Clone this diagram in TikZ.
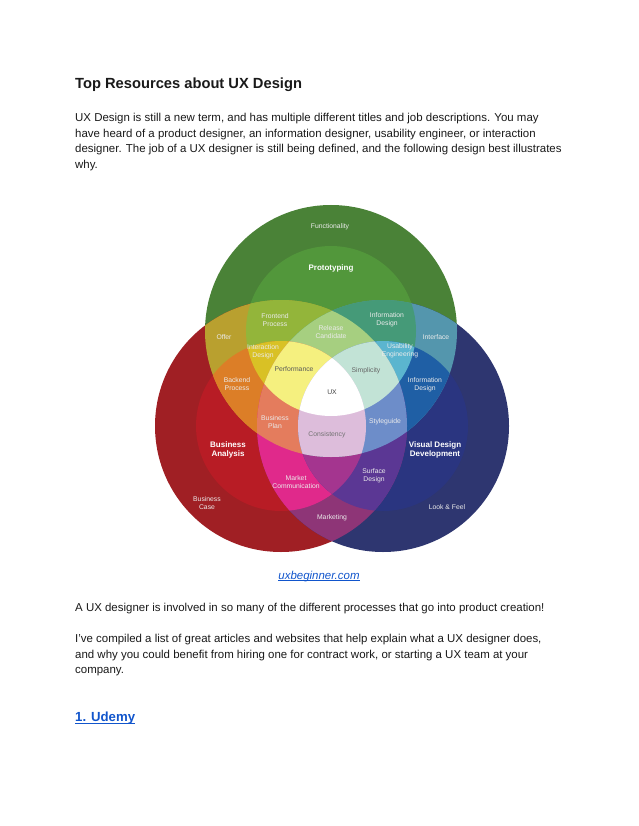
\documentclass[tikz,border=0pt]{standalone}
\usepackage{fontspec}
\setmainfont{Liberation Sans}
\usetikzlibrary{calc}
\definecolor{linkblue}{HTML}{1155CC}
\definecolor{txt}{HTML}{1A1A1A}
\tikzset{
  body/.style={anchor=base west,inner sep=0pt,font=\fontsize{11.46}{13}\selectfont,text=txt},
  dl/.style={align=center,inner sep=0pt,font=\fontsize{6.8}{8.2}\selectfont,text=#1},
  dl/.default=white!92!black,
  dlb/.style={align=center,inner sep=0pt,font=\fontsize{8}{9.6}\bfseries\selectfont,text=white},
}
\def\OG{(331,331) circle[radius=126]}
\def\IG{(331,331) circle[radius=85]}
\def\OR{(281,426) circle[radius=126]}
\def\IR{(281,426) circle[radius=85]}
\def\OB{(383,426) circle[radius=126]}
\def\IB{(383,426) circle[radius=85]}
\newcommand{\rg}[2]{\begin{scope}#1\fill[fill=#2] (0,0) rectangle (638,826);\end{scope}}
\begin{document}
\begin{tikzpicture}[x=1pt,y=-1pt]
\useasboundingbox (0,0) rectangle (638,826);
\fill[white] (0,0) rectangle (638,826);
% single circles
\fill[fill={rgb,255:red,74;green,130;blue,55}] \OG;
\fill[fill={rgb,255:red,160;green,31;blue,36}] \OR;
\fill[fill={rgb,255:red,46;green,54;blue,112}] \OB;
\fill[fill={rgb,255:red,82;green,151;blue,59}] \IG;
\fill[fill={rgb,255:red,184;green,28;blue,37}] \IR;
\fill[fill={rgb,255:red,42;green,53;blue,128}] \IB;
% two-level pairs
\rg{\clip \OG;\clip \OR;}{{rgb,255:red,185;green,160;blue,47}}
\rg{\clip \OG;\clip \OB;}{{rgb,255:red,84;green,150;blue,173}}
\rg{\clip \OR;\clip \OB;}{{rgb,255:red,142;green,53;blue,119}}
\rg{\clip \IG;\clip \OR;}{{rgb,255:red,147;green,181;blue,58}}
\rg{\clip \IG;\clip \OB;}{{rgb,255:red,69;green,154;blue,120}}
\rg{\clip \IR;\clip \OG;}{{rgb,255:red,220;green,126;blue,39}}
\rg{\clip \IR;\clip \OB;}{{rgb,255:red,224;green,41;blue,139}}
\rg{\clip \IB;\clip \OG;}{{rgb,255:red,31;green,95;blue,165}}
\rg{\clip \IB;\clip \OR;}{{rgb,255:red,91;green,55;blue,148}}
\rg{\clip \IG;\clip \IR;}{{rgb,255:red,217;green,193;blue,37}}
\rg{\clip \IG;\clip \IB;}{{rgb,255:red,91;green,181;blue,207}}
\rg{\clip \IR;\clip \IB;}{{rgb,255:red,164;green,53;blue,143}}
% triple overlaps
\rg{\clip \IG;\clip \OR;\clip \OB;}{{rgb,255:red,166;green,207;blue,128}}
\rg{\clip \OG;\clip \IR;\clip \OB;}{{rgb,255:red,228;green,124;blue,93}}
\rg{\clip \OG;\clip \OR;\clip \IB;}{{rgb,255:red,109;green,141;blue,201}}
\rg{\clip \IG;\clip \IR;\clip \OB;}{{rgb,255:red,245;green,240;blue,127}}
\rg{\clip \IG;\clip \OR;\clip \IB;}{{rgb,255:red,194;green,227;blue,214}}
\rg{\clip \OG;\clip \IR;\clip \IB;}{{rgb,255:red,221;green,189;blue,219}}
\rg{\clip \IG;\clip \IR;\clip \IB;}{white}
% diagram labels
\node[dl] (functionality) at (330,227) {Functionality};
\node[dlb] (prototyping) at (331,268) {Prototyping};
\node[dl] (frontend) at (275,320) {Frontend\\Process};
\node[dl] (infotop) at (387,320) {Information\\Design};
\node[dl] (release) at (331,332) {Release\\Candidate};
\node[dl] (offer) at (224,337) {Offer};
\node[dl] (interface) at (436,337) {Interface};
\node[dl] (interaction) at (263,352) {Interaction\\Design};
\node[dl] (usability) at (400,351) {Usability\\Engineering};
\node[dl=black!65] (performance) at (294,369) {Performance};
\node[dl=black!60] (simplicity) at (366,371) {Simplicity};
\node[dl] (backend) at (237,384) {Backend\\Process};
\node[dl] (infolow) at (425,385) {Information\\Design};
\node[dl=black!75] (ux) at (332,392) {UX};
\node[dl] (bplan) at (275,422) {Business\\Plan};
\node[dl] (styleguide) at (385,422) {Styleguide};
\node[dl=black!55] (consistency) at (327,435) {Consistency};
\node[dlb] (banalysis) at (228,450) {Business\\Analysis};
\node[dlb] (vdd) at (435,450) {Visual Design\\Development};
\node[dl] (surface) at (374,476) {Surface\\Design};
\node[dl] (market) at (296,482) {Market\\Communication};
\node[dl] (bcase) at (207,503) {Business\\Case};
\node[dl] (lookfeel) at (447,507) {Look \& Feel};
\node[dl] (marketing) at (332,518) {Marketing};
% page text
\node[anchor=base west,inner sep=0pt,font=\fontsize{14.7}{16}\bfseries\selectfont,text=txt] (title) at (75,89) {Top Resources about UX Design};
\node[body] (p1a) at (75,122) {UX Design is still a new term, and has multiple different titles and job descriptions. You may};
\node[body] (p1b) at (75,138) {have heard of a product designer, an information designer, usability engineer, or interaction};
\node[body] (p1c) at (75,153) {designer. The job of a UX designer is still being defined, and the following design best illustrates};
\node[body] (p1d) at (75,169) {why.};
\node[anchor=base,inner sep=0pt,font=\fontsize{11.46}{13}\itshape\selectfont,text=linkblue] (credit) at (319,579) {uxbeginner.com};
\draw[linkblue,line width=0.6pt] ($(credit.base west)+(0,1.5)$) -- ($(credit.base east)+(0,1.5)$);
\node[body] (p2) at (75,611) {A UX designer is involved in so many of the different processes that go into product creation!};
\node[body] (p3a) at (75,642) {I've compiled a list of great articles and websites that help explain what a UX designer does,};
\node[body] (p3b) at (75,658) {and why you could benefit from hiring one for contract work, or starting a UX team at your};
\node[body] (p3c) at (75,673) {company.};
\node[anchor=base west,inner sep=0pt,font=\fontsize{13.2}{16}\bfseries\selectfont,text=linkblue] (udemy) at (75,721) {1. Udemy};
\draw[linkblue,line width=0.9pt] ($(udemy.base west)+(0,2)$) -- ($(udemy.base east)+(0,2)$);
\end{tikzpicture}
\end{document}
